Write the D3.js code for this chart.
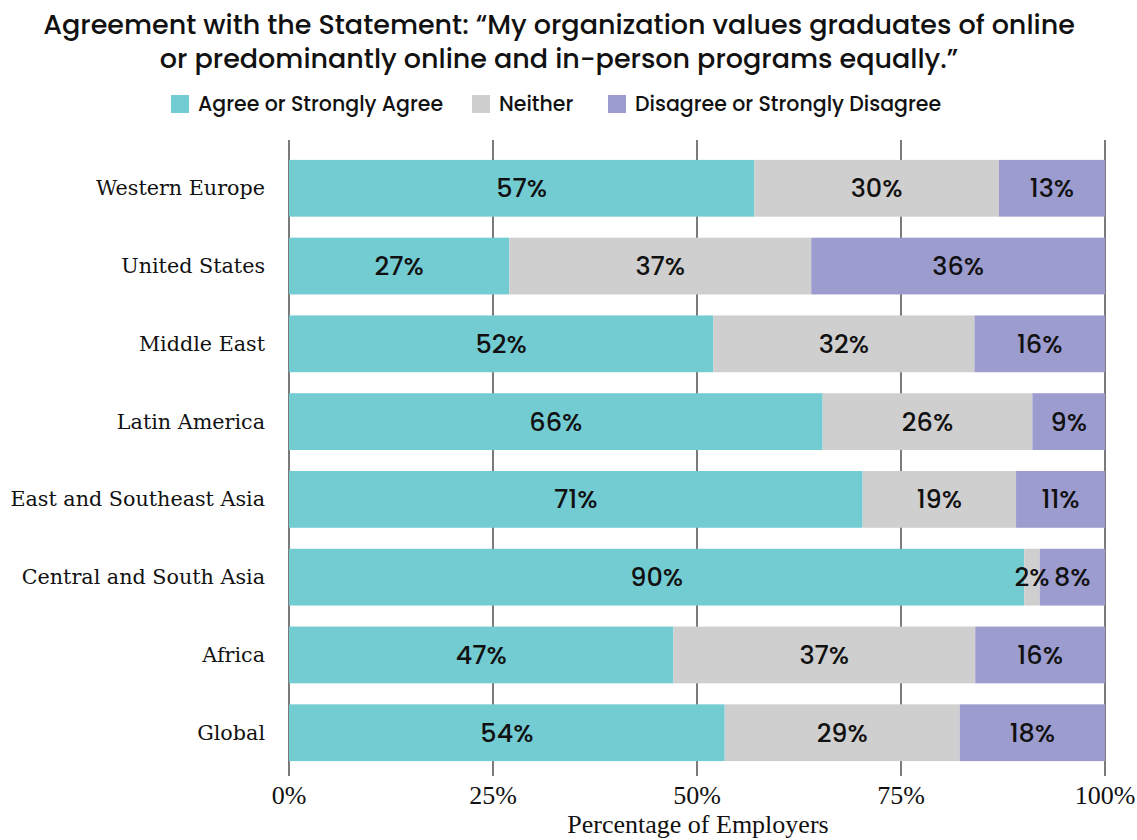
<!DOCTYPE html>
<html><head><meta charset="utf-8">
<script src="https://cdn.jsdelivr.net/npm/d3@7"></script>
<style>body{margin:0;background:#fff;}</style>
</head><body>
<svg id="c" width="1137" height="840"></svg>
<script>
const categories = ["Western Europe","United States","Middle East","Latin America","East and Southeast Asia","Central and South Asia","Africa","Global"];
const agree    = [57.0, 27.0, 52.0, 65.4, 70.3, 90.1, 47.1, 53.4];
const neither  = [30.0, 37.0, 32.0, 25.7, 18.8, 1.9, 37.0, 28.8];
const disagree = [13.0, 36.0, 16.0, 8.9, 10.9, 8.0, 15.9, 17.8];
const agreeLabels    = [57, 27, 52, 66, 71, 90, 47, 54];
const neitherLabels  = [30, 37, 32, 26, 19, 2, 37, 29];
const disagreeLabels = [13, 36, 16, 9, 11, 8, 16, 18];
const seriesNames = ["Agree or Strongly Agree","Neither","Disagree or Strongly Disagree"];
const xTicks = [0, 25, 50, 75, 100];

const colors = ["#74CCD3","#CFCFCF","#9C9CCF"];
const svg = d3.select("#c");
const sans = "Poppins, 'Noto Sans', sans-serif";
const serif = "'DejaVu Serif', serif";
const serif2 = "'Liberation Serif', serif";

const x = d3.scaleLinear().domain([0,100]).range([289,1105]);
const y = d3.scaleBand().domain(categories).range([149,772]).paddingInner(0.27).paddingOuter(0.14);

// title
const titleLines = ["Agreement with the Statement: \u201CMy organization values graduates of online",
                    "or predominantly online and in-person programs equally.\u201D"];
titleLines.forEach((t,i)=>{
  svg.append("text").attr("x",559).attr("y",34+i*34).attr("text-anchor","middle")
    .style("font-family",sans).style("font-size","27px").style("font-weight",500).attr("fill","#111")
    .text(t);
});

// legend
const legX = [171, 472, 608];
seriesNames.forEach((n,i)=>{
  svg.append("rect").attr("x",legX[i]).attr("y",95).attr("width",18).attr("height",18).attr("fill",colors[i]);
  svg.append("text").attr("x",legX[i]+27).attr("y",111).style("font-family",sans).style("font-size","20.5px")
    .style("font-weight",500).attr("fill","#111").text(n);
});

// grid lines
svg.append("g").selectAll("line").data(xTicks).join("line")
  .attr("x1",d=>x(d)).attr("x2",d=>x(d)).attr("y1",140).attr("y2",776)
  .attr("stroke","#222").attr("stroke-width",1.2);

// stacked data
const rows = categories.map((c,i)=>({cat:c, a:agree[i], n:neither[i], d:disagree[i]}));
const stack = d3.stack().keys(["a","n","d"])(rows);
const labelArrs = [agreeLabels, neitherLabels, disagreeLabels];

stack.forEach((layer,k)=>{
  svg.append("g").selectAll("rect").data(layer).join("rect")
    .attr("x",d=>x(d[0])).attr("width",d=>x(d[1])-x(d[0]))
    .attr("y",d=>y(d.data.cat)).attr("height",y.bandwidth())
    .attr("fill",colors[k]);
});
stack.forEach((layer,k)=>{
  svg.append("g").selectAll("text").data(layer).join("text")
    .attr("x",d=>(x(d[0])+x(d[1]))/2).attr("y",d=>y(d.data.cat)+y.bandwidth()/2+9)
    .attr("text-anchor","middle").style("font-family",sans).style("font-size","25.5px")
    .style("font-weight",500).attr("fill","#111")
    .text((d,i)=>labelArrs[k][i]+"%");
});

// y labels
svg.append("g").selectAll("text").data(categories).join("text")
  .attr("x",265).attr("y",d=>y(d)+y.bandwidth()/2+7).attr("text-anchor","end")
  .style("font-family",serif).style("font-size","20.7px").attr("fill","#111").text(d=>d);

// x axis labels
svg.append("g").selectAll("text").data(xTicks).join("text")
  .attr("x",d=>x(d)).attr("y",804).attr("text-anchor","middle")
  .style("font-family",serif2).style("font-size","26px").attr("fill","#111")
  .text(d=>d+"%");
svg.append("text").attr("x",698).attr("y",833).attr("text-anchor","middle")
  .style("font-family",serif2).style("font-size","26px").attr("fill","#111")
  .text("Percentage of Employers");
</script>
</body></html>
